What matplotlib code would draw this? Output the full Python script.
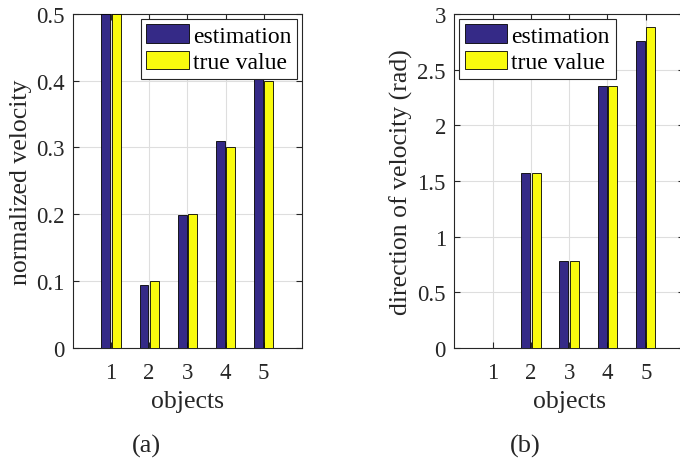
import numpy as np
import matplotlib.pyplot as plt

plt.rcParams['font.family'] = ['Liberation Serif', 'DejaVu Serif']

objects = [1, 2, 3, 4, 5]

# (a) normalized velocity
speed_est = [0.5, 0.094, 0.199, 0.310, 0.404]
speed_true = [0.5, 0.1, 0.2, 0.3, 0.4]

# (b) direction of velocity (rad)
dir_est = [0.0, 1.571, 0.785, 2.356, 2.752]
dir_true = [0.0, 1.571, 0.785, 2.356, 2.880]

blue = '#352a87'
yellow = '#f9fb0e'
dark = '#262626'


def draw_panel(ax, est, true, ylim, yticks, ylabel, legend_loc):
    x = np.array(objects)
    w = 0.235
    ax.bar(x - 0.135, est, w, color=blue, edgecolor='black', linewidth=0.6,
           label='estimation', zorder=3)
    ax.bar(x + 0.135, true, w, color=yellow, edgecolor='black', linewidth=0.6,
           label='true value', zorder=3)
    ax.set_xlim(0, 6)
    ax.set_ylim(*ylim)
    ax.set_xticks(objects)
    ax.set_yticks(yticks)
    ax.set_yticklabels([('%g' % v) for v in yticks])
    ax.grid(True, color='#dedede', linewidth=0.8, zorder=0)
    ax.set_axisbelow(True)
    ax.tick_params(direction='in', top=True, right=True, labelsize=16.5,
                   length=4, color=dark, labelcolor=dark)
    ax.tick_params(axis='x', pad=10)
    ax.tick_params(axis='y', pad=6)
    for s in ax.spines.values():
        s.set_color(dark)
        s.set_linewidth(0.8)
    ax.set_xlabel('objects', fontsize=18.5, color=dark, labelpad=5)
    ax.set_ylabel(ylabel, fontsize=18.5, color=dark, labelpad=3)
    leg = ax.legend(loc=legend_loc, fontsize=17, fancybox=False,
                    edgecolor=dark, framealpha=1, handlelength=1.8,
                    handleheight=0.85, handletextpad=0.17, borderpad=0.25,
                    labelspacing=0.15, borderaxespad=0.2)
    leg.get_frame().set_linewidth(0.8)


fig = plt.figure(figsize=(6.8, 4.64), dpi=100)
ax1 = fig.add_axes([0.107, 0.248, 0.337, 0.72])
ax2 = fig.add_axes([0.668, 0.248, 0.338, 0.72])

draw_panel(ax1, speed_est, speed_true, (0, 0.5), [0, 0.1, 0.2, 0.3, 0.4, 0.5],
           'normalized velocity', 'upper right')
draw_panel(ax2, dir_est, dir_true, (0, 3), [0, 0.5, 1, 1.5, 2, 2.5, 3],
           'direction of velocity (rad)', 'upper left')

fig.text(0.216, 0.024, '(a)', fontsize=19, ha='center', color=dark)
fig.text(0.772, 0.024, '(b)', fontsize=19, ha='center', color=dark)

fig.savefig('out.png', dpi=100)
